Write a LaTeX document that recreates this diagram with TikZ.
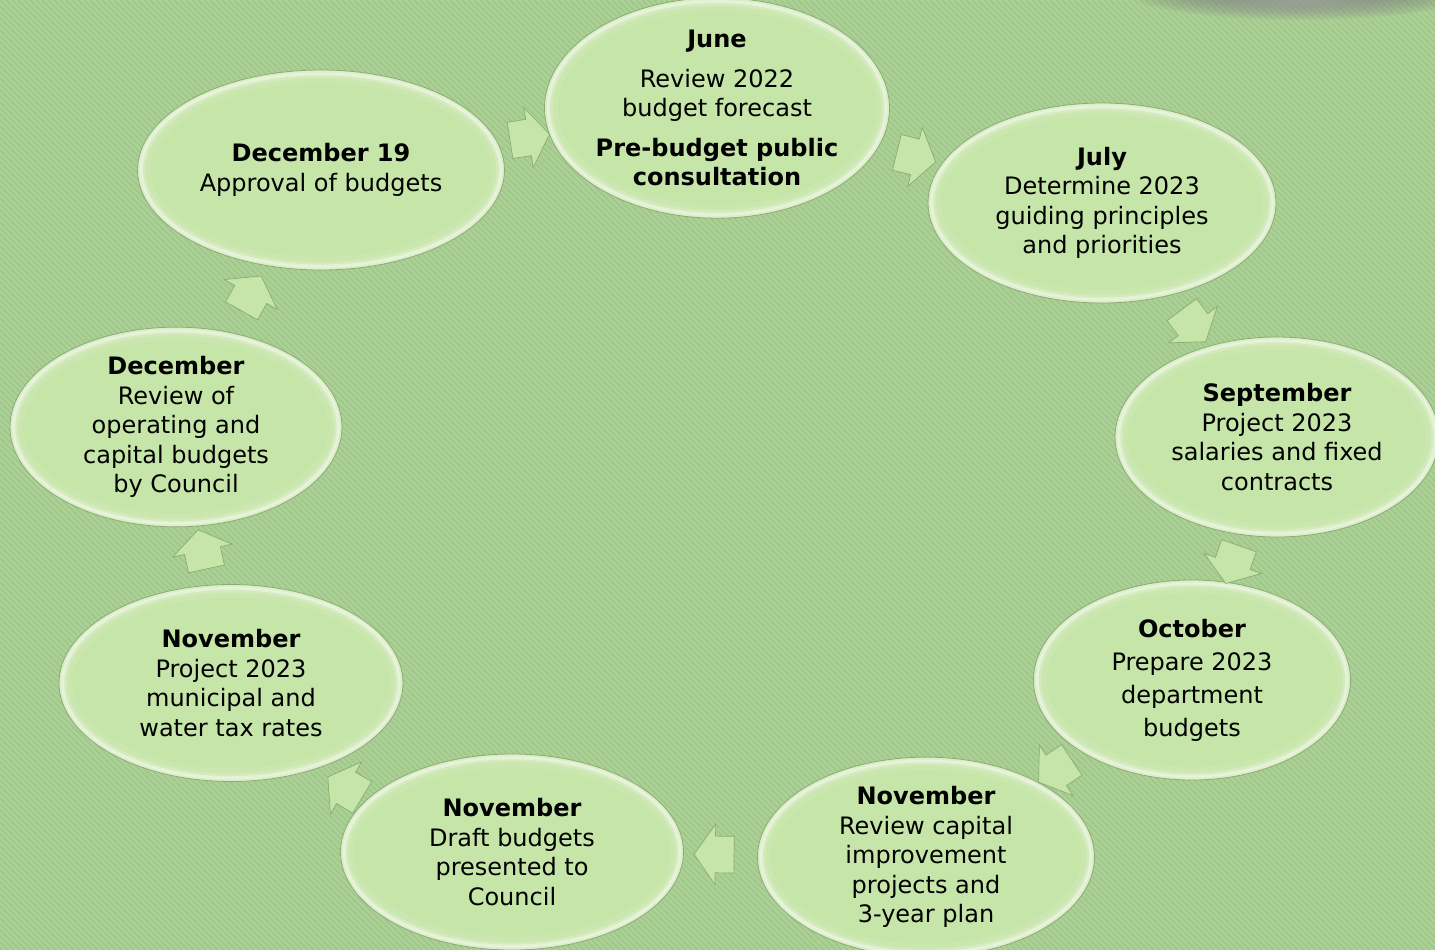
\documentclass[tikz,border=0pt]{standalone}
\usepackage{fontspec}
\setmainfont{DejaVu Sans}
\usetikzlibrary{shapes.geometric,shapes.arrows,fadings,calc}

\definecolor{bgGreen}{RGB}{174,211,152}
\definecolor{stripeGreen}{RGB}{162,200,141}
\definecolor{bubble}{RGB}{198,229,168}
\definecolor{rim}{RGB}{138,172,116}
\definecolor{shade}{RGB}{88,140,66}

\tikzfading[name=soft blob, inner color=transparent!15, outer color=transparent!100]

\tikzset{
  % soft pale band just inside an elliptic border
  glossrim/.style={path picture={
    \foreach \w/\o in {26pt/.10, 16pt/.16, 8pt/.22}
      \draw[white, opacity=\o, line width=\w]
        let \p1=(path picture bounding box.east), \p2=(path picture bounding box.north),
            \p3=(path picture bounding box.center) in
        (\p3) ellipse [x radius={\x1-\x3}, y radius={\y2-\y3}];
    \draw[white, opacity=.35, line width=3pt]
      let \p1=(path picture bounding box.east), \p2=(path picture bounding box.north),
          \p3=(path picture bounding box.center) in
      (\p3) ellipse [x radius={\x1-\x3-4pt}, y radius={\y2-\y3-4pt}];
  }},
  bubblenode/.style={ellipse, fill=bubble, draw=rim, line width=0.8pt, glossrim,
    inner sep=0pt, align=center, text=black,
    font=\fontsize{24}{29.5}\selectfont},
  arrowblk/.style={single arrow, minimum height=40pt, text width=0pt,
    text height=18pt, text depth=18pt,
    single arrow head extend=12pt, single arrow tip angle=110, inner sep=0pt,
    fill=bubble, draw=rim, line width=0.7pt, sloped, allow upside down},
}

\begin{document}
\begin{tikzpicture}[x=1pt,y=-1pt]
  \useasboundingbox (0,0) rectangle (1435,950);

  % striped backdrop
  \fill[bgGreen] (0,0) rectangle (1435,950);
  \begin{scope}
    \clip (0,0) rectangle (1435,950);
    \foreach \i in {-960,-954,...,1440}
      \draw[stripeGreen, line width=2.2pt] (\i,0) -- ++(950,950);
    \fill[shade, path fading=soft blob] (1300,-8) ellipse [x radius=175, y radius=28];
  \end{scope}

  % budget calendar stages
  \node[bubblenode, minimum width=345pt, minimum height=199pt] (june) at (717,108)
    {\textbf{June}\\[10pt]Review 2022\\budget forecast\\[10pt]\textbf{Pre-budget public}\\\textbf{consultation}};
  \node[bubblenode, minimum width=348pt, minimum height=200pt] (july) at (1102,203)
    {\textbf{July}\\Determine 2023\\guiding principles\\and priorities};
  \node[bubblenode, minimum width=324pt, minimum height=200pt] (sep) at (1277,437)
    {\textbf{September}\\Project 2023\\salaries and fixed\\contracts};
  \node[bubblenode, minimum width=317pt, minimum height=200pt,
        font=\fontsize{24}{33}\selectfont] (oct) at (1192,680)
    {\textbf{October}\\Prepare 2023\\department\\budgets};
  \node[bubblenode, minimum width=337pt, minimum height=196pt] (novc) at (926,857)
    {\textbf{November}\\Review capital\\improvement\\projects and\\3-year plan};
  \node[bubblenode, minimum width=343pt, minimum height=196pt] (novd) at (512,852)
    {\textbf{November}\\Draft budgets\\presented to\\Council};
  \node[bubblenode, minimum width=344pt, minimum height=197pt] (novp) at (231,683)
    {\textbf{November}\\Project 2023\\municipal and\\water tax rates};
  \node[bubblenode, minimum width=332pt, minimum height=199pt] (dec) at (176,427)
    {\textbf{December}\\Review of\\operating and\\capital budgets\\by Council};
  \node[bubblenode, minimum width=367pt, minimum height=200pt] (decb) at (321,170)
    {\textbf{December 19}\\Approval of budgets};

  % flow arrows between consecutive stages
  \path (decb) -- node[arrowblk] {} (june);
  \path (june) -- node[arrowblk] {} (july);
  \path (july) -- node[arrowblk] {} (sep);
  \path (sep)  -- node[arrowblk] {} (oct);
  \path (oct)  -- node[arrowblk] {} (novc);
  \path (novc) -- node[arrowblk] {} (novd);
  \path ([shift={(-21,23)}]novd.center) -- node[arrowblk] {} ([shift={(-21,23)}]novp.center);
  \path (novp) -- node[arrowblk] {} (dec);
  \path (dec)  -- node[arrowblk] {} (decb);
\end{tikzpicture}
\end{document}
